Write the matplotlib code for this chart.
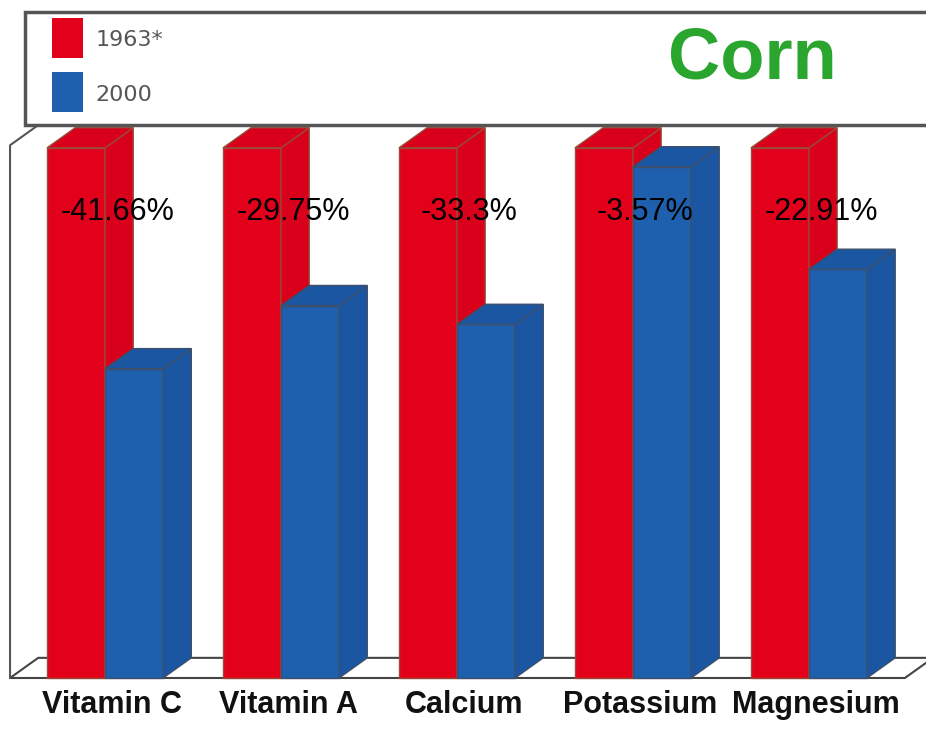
import matplotlib.pyplot as plt
from matplotlib.patches import Polygon, Rectangle
import numpy as np

# Data
nutrients = ['Vitamin C', 'Vitamin A', 'Calcium', 'Potassium', 'Magnesium']
values_1963 = [100, 100, 100, 100, 100]
values_2000 = [58.34, 70.25, 66.7, 96.43, 77.09]
change_labels = ['-41.66%', '-29.75%', '-33.3%', '-3.57%', '-22.91%']
series_names = ['1963*', '2000']
title = 'Corn'

red, red_side, red_edge = '#e3001b', '#d8001a', '#9a4a3a'
blue, blue_side, blue_edge = '#1e5fae', '#1a56a1', '#3d4f6a'

# pseudo 3D depth (data units)
dx, dy = 0.16, 3.8
w = 0.33

fig = plt.figure(figsize=(9.26, 7.30), dpi=100)
ax = fig.add_axes([0, 0, 1, 1])
ax.set_xlim(-0.597, 4.665)
ax.set_ylim(-9.81, 127.9)
ax.axis('off')


def bar3d(x0, h, face, side, edge):
    ax.bar(x0, h, w, align='edge', color=face, edgecolor=edge, linewidth=1, zorder=3)
    ax.add_patch(Polygon([(x0 + w, 0), (x0 + w + dx, dy), (x0 + w + dx, h + dy), (x0 + w, h)],
                         closed=True, facecolor=side, edgecolor=edge, lw=1, zorder=3))
    ax.add_patch(Polygon([(x0, h), (x0 + dx, h + dy), (x0 + w + dx, h + dy), (x0 + w, h)],
                         closed=True, facecolor=side, edgecolor=edge, lw=1, zorder=3))


# floor and left wall
xl, xr = -0.54, 4.545
ax.add_patch(Polygon([(xl, 0), (xr, 0), (xr + dx, dy), (xl + dx, dy)], closed=True,
                     facecolor='white', edgecolor='#444444', lw=1.5, zorder=1))
ax.plot([xl, xl, xl + dx], [0, 100.5, 100.5 + dy], color='#555555', lw=1.5, zorder=1)

x = np.arange(len(nutrients))
for i in x:
    bar3d(i - w, values_1963[i], red, red_side, red_edge)
    bar3d(i, values_2000[i], blue, blue_side, blue_edge)
    ax.text(i + 0.07, 87.9, change_labels[i], ha='center', va='center', fontsize=22,
            family='Liberation Sans', color='black', zorder=5)
    ax.text(i + 0.04, -5.1, nutrients[i], ha='center', va='center', fontsize=22,
            fontweight='bold', family='Liberation Sans', color='#111111')

# legend / title box at the top
ax.add_patch(Rectangle((0.030, 0.826), 1.0, 0.155, transform=fig.transFigure,
                       facecolor='#bbbbbb', edgecolor='none', clip_on=False, zorder=6))
ax.add_patch(Rectangle((0.027, 0.829), 1.0, 0.155, transform=fig.transFigure,
                       facecolor='white', edgecolor='#555555', lw=2.5, clip_on=False, zorder=7))
ax.add_patch(Rectangle((0.056, 0.9205), 0.0335, 0.0548, transform=fig.transFigure,
                       facecolor=red, edgecolor='none', clip_on=False, zorder=8))
ax.add_patch(Rectangle((0.056, 0.8466), 0.0335, 0.0548, transform=fig.transFigure,
                       facecolor=blue, edgecolor='none', clip_on=False, zorder=8))
ax.text(0.103, 0.945, series_names[0], transform=fig.transFigure, fontsize=16,
        color='#555555', va='center', ha='left', zorder=9)
ax.text(0.103, 0.870, series_names[1], transform=fig.transFigure, fontsize=16,
        color='#555555', va='center', ha='left', zorder=9)
ax.text(0.812, 0.918, title, transform=fig.transFigure, fontsize=52, fontweight='bold',
        family='Liberation Sans', color='#2aa52e', ha='center', va='center', zorder=9)

plt.savefig('out.png', dpi=100)
